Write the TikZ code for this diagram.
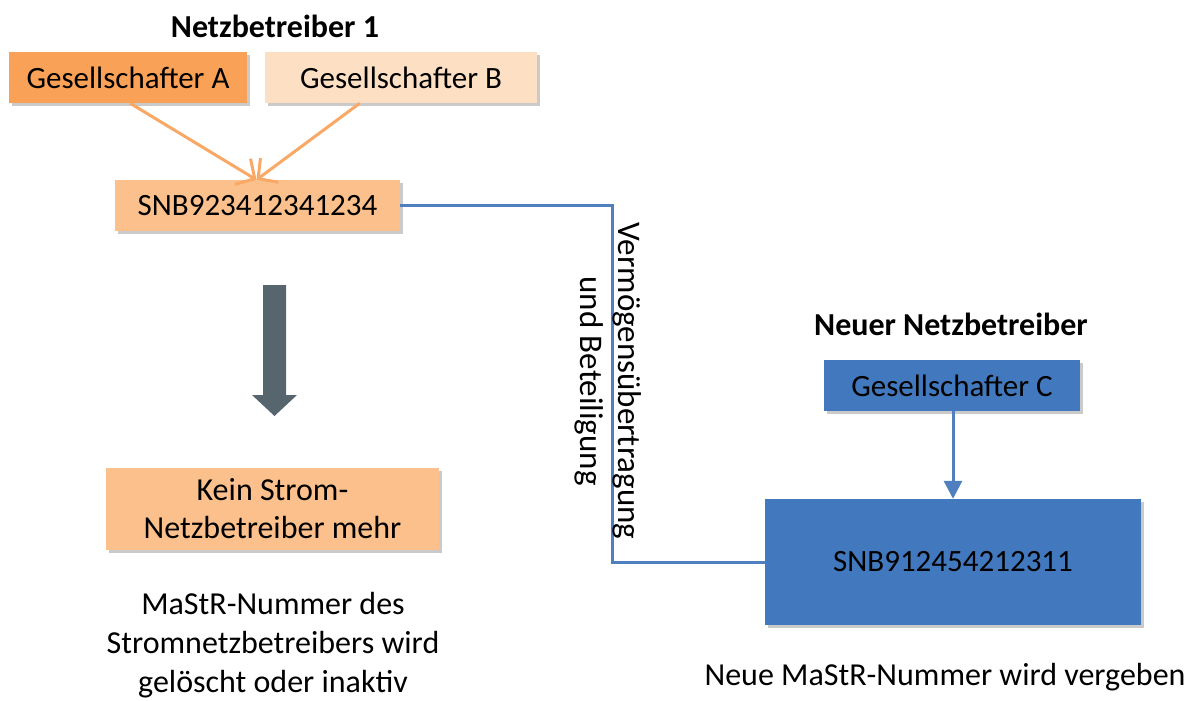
\documentclass[tikz,border=0pt]{standalone}
\usepackage{fontspec}
\setmainfont{Carlito}
\usetikzlibrary{arrows.meta,shadows}
\definecolor{orA}{HTML}{F9A257}
\definecolor{orB}{HTML}{FDE0C4}
\definecolor{orS}{HTML}{FBC08C}
\definecolor{orLine}{HTML}{F9A865}
\definecolor{blueBox}{HTML}{4279BE}
\definecolor{blueLine}{HTML}{4F7FBF}
\definecolor{grayArrow}{HTML}{56656E}
\tikzset{
  txt/.style={font=\fontsize{32}{39}\selectfont, inner sep=0pt, align=center},
  stxt/.style={font=\fontsize{31}{38}\selectfont, inner sep=0pt, align=center},
  title/.style={txt, font=\fontsize{32}{39}\selectfont\bfseries},
  box/.style={stxt, draw=none, minimum height=51pt,
    drop shadow={shadow xshift=3pt, shadow yshift=-3pt, opacity=0.35, fill=black!60}},
  oarrow/.style={draw=orLine, line width=3pt, -{Straight Barb[length=14pt, width=30pt, line width=3pt]}},
  bline/.style={draw=blueLine, line width=3pt},
}
\begin{document}
\begin{tikzpicture}[x=1pt, y=-1pt]
\useasboundingbox (0,0) rectangle (1200,701);
% titles
\node[title] (t1) at (275,26) {Netzbetreiber 1};
\node[title] (t2) at (951,324) {Neuer Netzbetreiber};
% left boxes
\node[box, fill=orA, minimum width=238pt] (A) at (128,77.5) {Gesellschafter A};
\node[box, fill=orB, minimum width=272pt] (B) at (401,77.5) {Gesellschafter B};
\node[box, fill=orS, minimum width=285pt] (S) at (257.5,205.5) {SNB923412341234};
\node[box, font=\fontsize{32}{38}\selectfont, fill=orS, minimum width=333pt, minimum height=82pt] (K) at (272.5,509) {Kein Strom-\\Netzbetreiber mehr};
\node[txt] (M) at (273,645) {MaStR-Nummer des\\Stromnetzbetreibers wird\\gelöscht oder inaktiv};
% right boxes
\node[box, fill=blueBox, minimum width=256pt] (C) at (952,385.5) {Gesellschafter C};
\node[box, fill=blueBox, minimum width=376pt, minimum height=126pt] (N) at (953,562) {SNB912454212311};
\node[txt] (NM) at (945,677) {Neue MaStR-Nummer wird vergeben};
% connectors
\draw[oarrow] ([xshift=2pt]A.south) -- ([xshift=-1pt]S.north);
\draw[oarrow] ([xshift=95pt]B.south west) -- ([xshift=-1pt]S.north);
\coordinate (k) at (612,385);
\draw[bline] (S.east) -| (k) |- (N.west);
\draw[draw=blueLine, line width=3pt, -{Triangle[length=18pt, width=18pt]}] ([xshift=1pt]C.south) -- ([xshift=0pt]N.north);
\node[txt, font=\fontsize{33}{38}\selectfont, rotate=-90] (V) at (608,381) {Vermögensübertragung\\und Beteiligung};
% gray block arrow
\fill[grayArrow] (263,285) -- (286,285) -- (286,395) -- (297,395) -- (274.5,416) -- (252,395) -- (263,395) -- cycle;
\end{tikzpicture}
\end{document}
